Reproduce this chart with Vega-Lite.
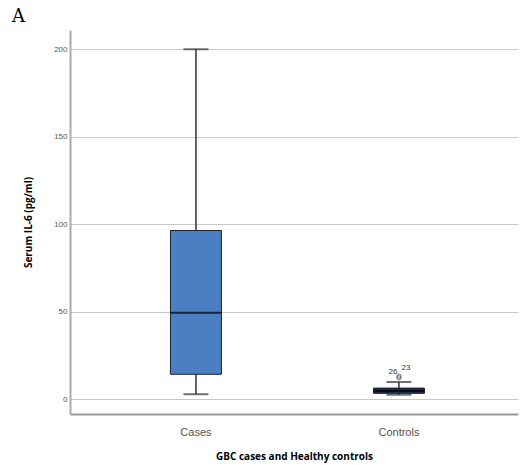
{
  "$schema": "https://vega.github.io/schema/vega-lite/v6.json",
  "width": 448,
  "height": 384,
  "autosize": "none",
  "padding": {"left": 70, "top": 30, "right": 4, "bottom": 51},
  "background": "white",
  "title": {"text": "A", "anchor": "start", "frame": "group", "dx": -58, "offset": 4, "font": "DejaVu Serif", "fontSize": 18, "fontWeight": "normal", "color": "#000"},
  "config": {"view": {"stroke": null}},
  "datasets": {
    "boxes": [
      {"group": "Cases", "min": 2.8, "q1": 14.2, "median": 49.4, "q3": 96.4, "max": 200},
      {"group": "Controls", "min": 2.5, "q1": 3.3, "median": 4.6, "q3": 6.3, "max": 9.8}
    ],
    "outliers": [
      {"group": "Controls", "value": 12.2, "label": "26"},
      {"group": "Controls", "value": 13.2, "label": "23"}
    ]
  },
  "encoding": {
    "x": {
      "field": "group", "type": "nominal", "sort": ["Cases", "Controls"],
      "scale": {"domain": ["Cases", "Controls"], "paddingInner": 0.5, "paddingOuter": 0.3535, "align": 0.524},
      "axis": {"title": "GBC cases and Healthy controls", "titleFont": "Open Sans", "titleFontWeight": "bold", "titleFontSize": 10, "titleColor": "#000", "titlePadding": 14,
               "labelAngle": 0, "labelFont": "Liberation Sans", "labelFontSize": 11, "labelColor": "#555", "labelPadding": 12,
               "ticks": false, "domainColor": "#999", "domainWidth": 2, "grid": false}
    }
  },
  "layer": [
    {
      "data": {"name": "boxes"},
      "mark": {"type": "rule", "color": "#333", "strokeWidth": 1.5},
      "encoding": {
        "y": {"field": "min", "type": "quantitative",
              "scale": {"domain": [-8.5, 211], "nice": false, "zero": false},
              "axis": {"title": "Serum IL-6 (pg/ml)", "titleFont": "Open Sans", "titleFontWeight": "bold", "titleFontSize": 10, "titleColor": "#000", "titlePadding": 20,
                       "values": [0, 50, 100, 150, 200], "labelFont": "Liberation Sans", "labelFontSize": 8, "labelColor": "#555", "labelPadding": 3,
                       "ticks": false, "domainColor": "#aaa", "domainWidth": 2, "grid": true, "gridColor": "#c8c8c8", "gridWidth": 1.2}},
        "y2": {"field": "max"}
      }
    },
    {
      "data": {"name": "boxes"},
      "mark": {"type": "tick", "color": "#333", "thickness": 2, "size": 25},
      "encoding": {"y": {"field": "max", "type": "quantitative"}}
    },
    {
      "data": {"name": "boxes"},
      "mark": {"type": "tick", "color": "#333", "thickness": 2, "size": 25},
      "encoding": {"y": {"field": "min", "type": "quantitative"}}
    },
    {
      "data": {"name": "boxes"},
      "mark": {"type": "bar", "size": 51, "stroke": "#222", "strokeWidth": 1},
      "encoding": {
        "y": {"field": "q1", "type": "quantitative"},
        "y2": {"field": "q3"},
        "color": {"field": "group", "type": "nominal", "scale": {"domain": ["Cases", "Controls"], "range": ["#4b7fc4", "#1c2c4c"]}, "legend": null}
      }
    },
    {
      "data": {"name": "boxes"},
      "mark": {"type": "tick", "color": "#000", "thickness": 2, "size": 51},
      "encoding": {"y": {"field": "median", "type": "quantitative"}}
    },
    {
      "data": {"name": "outliers"},
      "mark": {"type": "point", "shape": "circle", "size": 18, "stroke": "#333", "strokeWidth": 1, "filled": false},
      "encoding": {"y": {"field": "value", "type": "quantitative"}}
    },
    {
      "data": {"name": "outliers"},
      "transform": [{"filter": "datum.label == '26'"}],
      "mark": {"type": "text", "fontSize": 8, "font": "Liberation Sans", "fill": "#333", "baseline": "bottom", "dx": -6, "dy": -2},
      "encoding": {"y": {"field": "value", "type": "quantitative"}, "text": {"field": "label"}}
    },
    {
      "data": {"name": "outliers"},
      "transform": [{"filter": "datum.label == '23'"}],
      "mark": {"type": "text", "fontSize": 8, "font": "Liberation Sans", "fill": "#333", "baseline": "bottom", "dx": 7, "dy": -4},
      "encoding": {"y": {"field": "value", "type": "quantitative"}, "text": {"field": "label"}}
    }
  ]
}
